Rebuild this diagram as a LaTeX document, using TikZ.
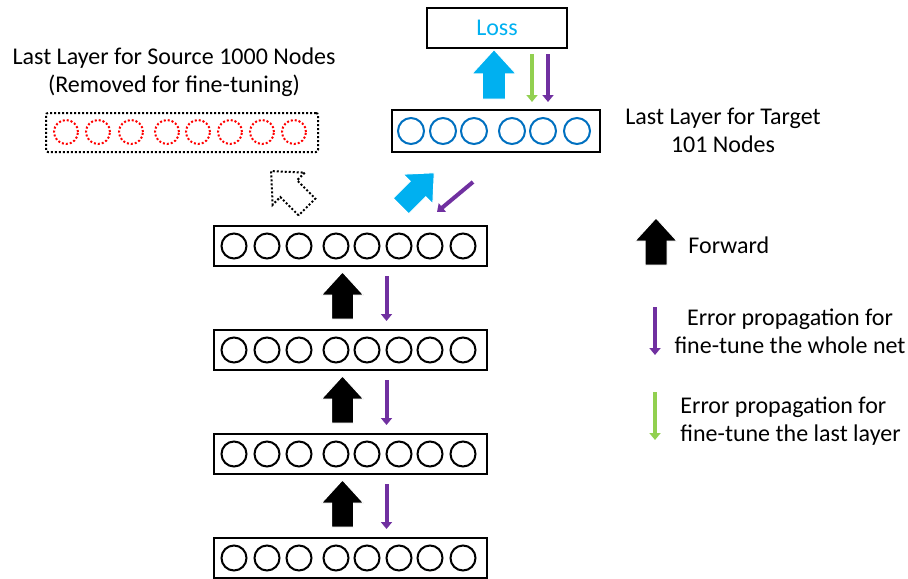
\documentclass[tikz,border=0pt]{standalone}
\usepackage{fontspec}
\setmainfont{Carlito}
\usetikzlibrary{arrows.meta}

\definecolor{netpurple}{HTML}{7030A0}
\definecolor{netgreen}{HTML}{92D050}
\definecolor{netcyan}{HTML}{00B0F0}
\definecolor{netblue}{HTML}{0070C0}

\tikzset{
  fatarrow/.pic={
    \path[pic actions] (-11,0) -- (-11,-24) -- (-21,-24) -- (0,-47)
      -- (21,-24) -- (11,-24) -- (11,0) -- cycle;
  }
}

\begin{document}
\begin{tikzpicture}[x=0.5pt,y=-0.5pt,
  font=\fontsize{12}{14}\selectfont,
  layerbox/.style={draw, line width=1pt, minimum width=136.5pt, minimum height=20pt, inner sep=0pt},
  unit/.style={draw, line width=1pt},
  fwd/.style={fill=black, draw=white, line width=0.5pt},
  fwdlast/.style={fill=netcyan, draw=white, line width=0.5pt},
  gonearrow/.style={draw=black, line width=1pt, dash pattern=on 1pt off 1pt},
  backprop/.style={draw=netpurple, line width=2pt, -{Triangle[width=5.5pt,length=3.5pt]}},
  lastprop/.style={draw=netgreen, line width=2pt, -{Triangle[width=5.5pt,length=3.5pt]}},
  label/.style={inner sep=0pt, align=center}]
  \useasboundingbox (0,0) rectangle (908,578);
  \clip (0,0) rectangle (908,578);

  % hidden layers
  \foreach \i/\y in {1/246,2/350,3/454,4/558} {
    \node[layerbox] (hid\i) at (350.5,\y) {};
    \foreach \cx in {234,267,299,336,367,399,430,463}
      \draw[unit] (\cx,\y) circle[radius=6.25pt];
  }

  % forward and error propagation between hidden layers
  \foreach \i/\j in {1/2,2/3,3/4} {
    \pic[fwd] at ([xshift=-4pt,yshift=5pt]hid\j.north) {fatarrow};
    \draw[backprop] ([xshift=18pt,yshift=-4.5pt]hid\i.south) -- ([xshift=18pt,yshift=4pt]hid\j.north);
  }

  % removed source layer
  \node[layerbox, minimum width=136pt, minimum height=19.5pt, dash pattern=on 1pt off 1pt, rounded corners=1pt] (source) at (182,132.5) {};
  \foreach \cx in {66,98,131,167,198,230,262,294}
    \draw[unit, red, dash pattern=on 1pt off 1pt] (\cx,132) circle[radius=6pt];
  \node[label] (sourcetxt) at (174,72) {Last Layer for Source 1000 Nodes\\(Removed for fine-tuning)};
  \pic[gonearrow, rotate=45, scale=1.08] at ([xshift=-21.75pt,yshift=9pt]hid1.north) {fatarrow};

  % new target layer
  \node[layerbox, minimum width=104pt, minimum height=21pt] (target) at (496,131) {};
  \foreach \cx in {411,443,474,512,543,577}
    \draw[unit, netblue] (\cx,131) circle[radius=6.5pt];
  \node[label] (targettxt) at (723,130) {Last Layer for Target\\101 Nodes};
  \pic[fwdlast, rotate=-45] at ([xshift=25.25pt,yshift=9.5pt]hid1.north) {fatarrow};
  \draw[backprop] ([xshift=-11.5pt,yshift=-14.5pt]target.south) -- ([xshift=43.25pt,yshift=6.5pt]hid1.north);

  % loss
  \node[layerbox, minimum width=70pt, minimum height=20pt, text=netcyan] (loss) at (497,28) {Loss};
  \pic[fwdlast, scale=1.05] at ([xshift=-1pt,yshift=5pt]target.north) {fatarrow};
  \draw[lastprop] ([xshift=17.5pt,yshift=-2.5pt]loss.south) -- ([xshift=18pt,yshift=3.5pt]target.north);
  \draw[backprop] ([xshift=25.5pt,yshift=-2.5pt]loss.south) -- ([xshift=26pt,yshift=3.5pt]target.north);

  % legend
  \pic[fwd] at (656,265) {fatarrow};
  \node[label, anchor=west] (fwdtxt) at (688,245) {Forward};
  \coordinate (wholeA) at (655,307);
  \coordinate (wholeB) at (655,355);
  \draw[backprop] (wholeA) -- (wholeB);
  \node[label] (wholetxt) at (790,331) {Error propagation for\\fine-tune the whole net};
  \coordinate (lastA) at (655,392);
  \coordinate (lastB) at (655,440);
  \draw[lastprop] (lastA) -- (lastB);
  \node[label, align=left, anchor=west] (lasttxt) at (680,421) {Error propagation for\\fine-tune the last layer};

\end{tikzpicture}
\end{document}
